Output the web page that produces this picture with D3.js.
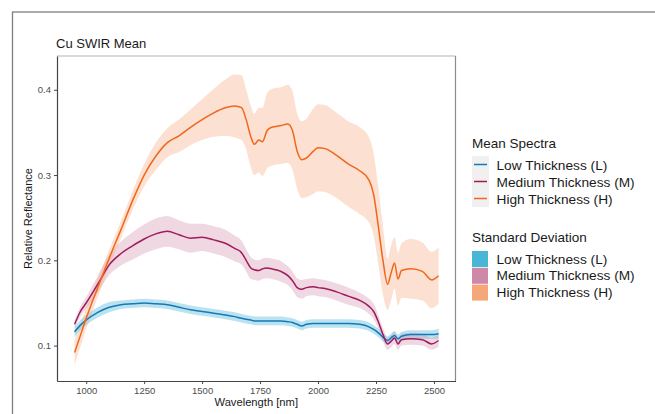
<!DOCTYPE html>
<html>
<head>
  <meta charset='utf-8'>
  <title>Cu SWIR Mean</title>
  <script src="https://cdnjs.cloudflare.com/ajax/libs/d3/7.8.5/d3.min.js"></script>
  <style>
    html, body { margin: 0; padding: 0; background: #fff; }
    svg { display: block; font-family: "Liberation Sans", Arial, sans-serif; }
  </style>
</head>
<body>
<script>
// wavelengths (nm)
var wavelength = [950, 975, 1000, 1050, 1100, 1150, 1200, 1250, 1300, 1350, 1400, 1450, 1500, 1550, 1600,
  1640, 1670, 1690, 1710, 1725, 1745, 1760, 1780, 1800, 1840, 1870, 1890, 1910, 1930, 1950, 1980, 2000,
  2030, 2080, 2130, 2180, 2220, 2240, 2260, 2280, 2300, 2315, 2330, 2345, 2360, 2400, 2450, 2490, 2520];

// mean reflectance
var lowMean = [0.116, 0.124, 0.130, 0.139, 0.145, 0.148, 0.149, 0.150, 0.149, 0.148, 0.145, 0.142, 0.140, 0.138, 0.136,
  0.134, 0.132, 0.131, 0.130, 0.129, 0.129, 0.129, 0.129, 0.129, 0.129, 0.128, 0.127, 0.125, 0.123, 0.125, 0.126, 0.126,
  0.126, 0.126, 0.126, 0.125, 0.122, 0.119, 0.115, 0.110, 0.106, 0.109, 0.112, 0.108, 0.111, 0.113, 0.113, 0.113, 0.114];
var medMean = [0.125, 0.140, 0.150, 0.172, 0.195, 0.208, 0.217, 0.225, 0.231, 0.234, 0.230, 0.226, 0.227, 0.224, 0.220,
  0.214, 0.209, 0.200, 0.191, 0.189, 0.188, 0.190, 0.191, 0.190, 0.187, 0.182, 0.176, 0.168, 0.166, 0.168, 0.169, 0.168,
  0.167, 0.163, 0.158, 0.153, 0.146, 0.140, 0.128, 0.113, 0.102, 0.105, 0.109, 0.102, 0.107, 0.108, 0.107, 0.102, 0.106];
var highMean = [0.092, 0.112, 0.132, 0.168, 0.203, 0.236, 0.270, 0.300, 0.322, 0.338, 0.346, 0.356, 0.365, 0.373, 0.379,
  0.381, 0.379, 0.365, 0.345, 0.336, 0.341, 0.339, 0.352, 0.356, 0.358, 0.360, 0.352, 0.328, 0.318, 0.320, 0.328, 0.332,
  0.331, 0.323, 0.313, 0.305, 0.294, 0.277, 0.240, 0.200, 0.172, 0.185, 0.197, 0.178, 0.188, 0.190, 0.187, 0.177, 0.182];

// standard deviation
var lowSd = [0.006, 0.006, 0.006, 0.006, 0.006, 0.005, 0.005, 0.005, 0.005, 0.005, 0.005, 0.005, 0.005, 0.005, 0.005,
  0.005, 0.005, 0.005, 0.005, 0.005, 0.005, 0.005, 0.005, 0.005, 0.005, 0.005, 0.005, 0.005, 0.005, 0.005, 0.005, 0.005,
  0.005, 0.005, 0.005, 0.005, 0.005, 0.005, 0.005, 0.005, 0.005, 0.005, 0.005, 0.005, 0.005, 0.005, 0.005, 0.005, 0.006];
var medSd = [0.005, 0.006, 0.007, 0.010, 0.012, 0.014, 0.016, 0.017, 0.018, 0.018, 0.017, 0.017, 0.016, 0.016, 0.016,
  0.015, 0.014, 0.013, 0.013, 0.012, 0.012, 0.012, 0.012, 0.012, 0.012, 0.011, 0.011, 0.011, 0.011, 0.010, 0.010, 0.010,
  0.010, 0.010, 0.010, 0.009, 0.009, 0.009, 0.008, 0.008, 0.007, 0.007, 0.007, 0.007, 0.007, 0.007, 0.007, 0.007, 0.007];
var highSd = [0.015, 0.013, 0.012, 0.011, 0.010, 0.010, 0.011, 0.013, 0.016, 0.017, 0.019, 0.021, 0.024, 0.028, 0.033,
  0.037, 0.038, 0.035, 0.036, 0.036, 0.038, 0.040, 0.044, 0.045, 0.045, 0.046, 0.046, 0.044, 0.045, 0.046, 0.050, 0.051,
  0.051, 0.050, 0.050, 0.051, 0.050, 0.048, 0.045, 0.040, 0.030, 0.032, 0.030, 0.031, 0.032, 0.035, 0.034, 0.033, 0.033];

var groups = ['Low Thickness (L)', 'Medium Thickness (M)', 'High Thickness (H)'];
var xTicks = [1000, 1250, 1500, 1750, 2000, 2250, 2500];
var yTicks = [0.1, 0.2, 0.3, 0.4];

var lineColor = ['#1279bb', '#a11a5c', '#f0661a'];
var fillColor = ['#4ab6d6', '#cf89a8', '#f5a67a'];

var series = [lowMean, medMean, highMean].map(function (m, i) {
  var sd = [lowSd, medSd, highSd][i];
  return m.map(function (v, j) { return {x: wavelength[j], y: v, sd: sd[j]}; });
});

var width = 655, height = 414;
var margin = {left: 57, top: 56, right: 455.5, bottom: 381};

var svg = d3.select('body').append('svg')
  .attr('width', width)
  .attr('height', height);

// outer frame
svg.append('rect')
  .attr('x', 12.5).attr('y', 12)
  .attr('width', 700).attr('height', 500)
  .attr('fill', 'none').attr('stroke', '#7f7f7f').attr('stroke-width', 1.3);

var x = d3.scaleLinear().domain([874, 2593]).range([margin.left, margin.right]);
var y = d3.scaleLinear().domain([0.0585, 0.4396]).range([margin.bottom, margin.top]);

var area = d3.area()
  .curve(d3.curveMonotoneX)
  .x(d => x(d.x))
  .y0(d => y(d.y - d.sd))
  .y1(d => y(d.y + d.sd));

var line = d3.line()
  .curve(d3.curveMonotoneX)
  .x(d => x(d.x))
  .y(d => y(d.y));

svg.append('g').selectAll('path')
  .data(series)
  .enter().append('path')
  .attr('d', area)
  .attr('fill', (d, i) => fillColor[i])
  .attr('fill-opacity', (d, i) => [0.38, 0.33, 0.35][i]);

svg.append('g').selectAll('path')
  .data(series)
  .enter().append('path')
  .attr('d', line)
  .attr('fill', 'none')
  .attr('stroke', (d, i) => lineColor[i])
  .attr('stroke-width', 1.5);

// panel border (top / right lighter)
svg.append('line').attr('x1', margin.left).attr('x2', margin.right)
  .attr('y1', margin.top).attr('y2', margin.top)
  .attr('stroke', '#b3b3b3').attr('stroke-width', 1.2);
svg.append('line').attr('x1', margin.right).attr('x2', margin.right)
  .attr('y1', margin.top).attr('y2', margin.bottom)
  .attr('stroke', '#8c8c8c').attr('stroke-width', 1.2);

// axes
var xAxis = svg.append('g')
  .attr('transform', 'translate(0,' + margin.bottom + ')')
  .call(d3.axisBottom(x).tickValues(xTicks).tickFormat(d3.format('d')).tickSize(3).tickPadding(3).tickSizeOuter(0));
var yAxis = svg.append('g')
  .attr('transform', 'translate(' + margin.left + ',0)')
  .call(d3.axisLeft(y).tickValues(yTicks).tickFormat(d3.format('.1f')).tickSize(3).tickPadding(3).tickSizeOuter(0));

[xAxis, yAxis].forEach(function (a) {
  a.select('.domain').attr('stroke', '#444').attr('stroke-width', 1.2);
  a.selectAll('.tick line').attr('stroke', '#444');
  a.selectAll('.tick text').attr('fill', '#4d4d4d').attr('font-size', 9.5)
    .attr('font-family', '"Liberation Sans", Arial, sans-serif');
});

// titles
svg.append('text').attr('x', 56).attr('y', 48)
  .attr('font-size', 13).attr('fill', '#1a1a1a').text('Cu SWIR Mean');
svg.append('text').attr('x', (margin.left + margin.right) / 2).attr('y', 406)
  .attr('text-anchor', 'middle').attr('font-size', 11.2).attr('fill', '#1a1a1a').text('Wavelength [nm]');
svg.append('text')
  .attr('transform', 'translate(32,' + (margin.top + margin.bottom) / 2 + ') rotate(-90)')
  .attr('text-anchor', 'middle').attr('font-size', 11).attr('fill', '#1a1a1a').text('Relative Reflectance');

// legend: mean spectra
var lg = svg.append('g').attr('transform', 'translate(472,0)');
lg.append('text').attr('x', 0).attr('y', 148).attr('font-size', 13.5).attr('fill', '#1a1a1a').text('Mean Spectra');
groups.forEach(function (g, i) {
  var ky = 156 + i * 17;
  lg.append('rect').attr('x', 0).attr('y', ky).attr('width', 17).attr('height', 17).attr('fill', '#f0f0f0');
  lg.append('line').attr('x1', 2).attr('x2', 15).attr('y1', ky + 8.5).attr('y2', ky + 8.5)
    .attr('stroke', lineColor[i]).attr('stroke-width', 1.5);
  lg.append('text').attr('x', 24.5).attr('y', ky + 13.5).attr('font-size', 13.7).attr('fill', '#1a1a1a').text(g);
});

// legend: standard deviation
lg.append('text').attr('x', 0).attr('y', 242).attr('font-size', 13.5).attr('fill', '#1a1a1a').text('Standard Deviation');
groups.forEach(function (g, i) {
  var ky = 251 + i * 16.8;
  lg.append('rect').attr('x', 0).attr('y', ky).attr('width', 16).attr('height', 16).attr('fill', fillColor[i]);
  lg.append('text').attr('x', 24.5).attr('y', ky + 12.5).attr('font-size', 13.7).attr('fill', '#1a1a1a').text(g);
});
</script>
</body>
</html>
